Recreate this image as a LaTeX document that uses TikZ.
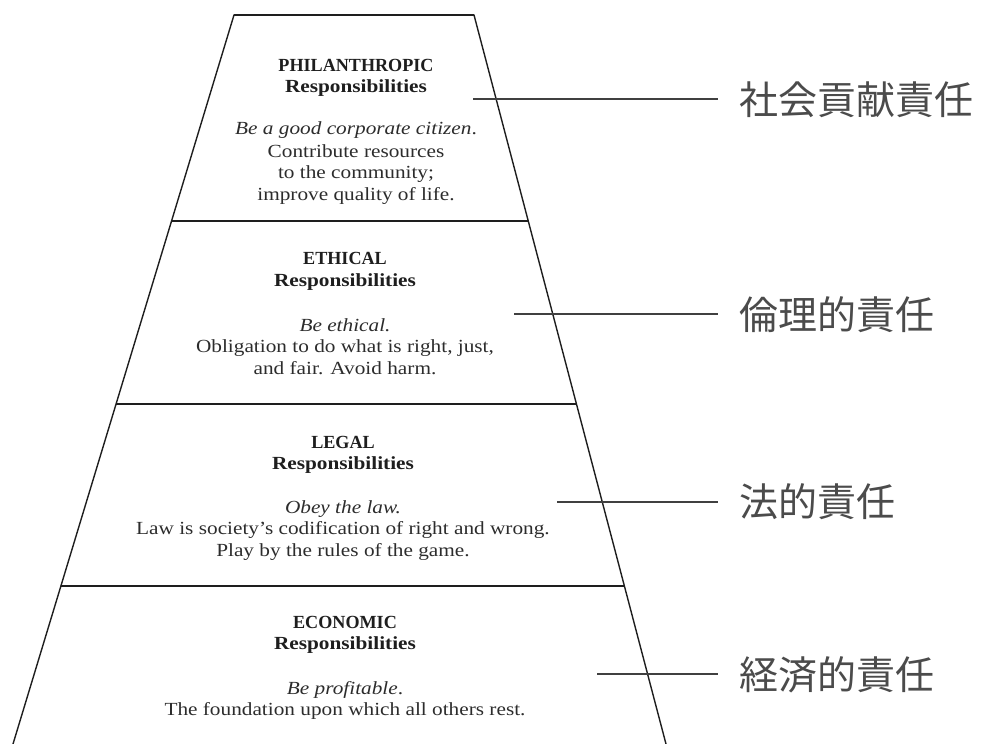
\documentclass[tikz,border=0pt]{standalone}
\usepackage{fontspec}
\setmainfont[FakeStretch=1.15]{Liberation Serif}
\newfontfamily\capsfont[FakeStretch=0.98]{Liberation Serif}
\newfontfamily\cjk{Noto Sans CJK JP}
\usetikzlibrary{calc}

\definecolor{ink}{HTML}{1E1E1E}
\definecolor{bodyink}{HTML}{2C2C2C}

\tikzset{
  edge/.style={draw=ink, line width=1.4pt},
  tierline/.style={draw=ink, line width=2pt},
  leader/.style={draw=ink!85, line width=1.6pt},
  head/.style={anchor=base, inner sep=0pt, text=ink,
    font=\fontsize{18.5}{21}\selectfont\bfseries},
  caps/.style={anchor=base, inner sep=0pt, text=ink,
    font=\capsfont\fontsize{18.5}{21}\selectfont\bfseries},
  body/.style={anchor=base, inner sep=0pt, text=bodyink,
    font=\fontsize{18.5}{21}\selectfont},
  motto/.style={body, font=\fontsize{18.5}{21}\selectfont\itshape},
  tag/.style={anchor=west, inner sep=0pt, text=ink!80,
    font=\fontsize{39}{39}\selectfont\cjk}
}

\begin{document}
\begin{tikzpicture}[x=1pt, y=-1pt]
\useasboundingbox (0,0) rectangle (985,744);

% outline of the pyramid (its base runs off the bottom edge)
\coordinate (tl) at (234,15);
\coordinate (tr) at (474,15);
\coordinate (bl) at (13,744);
\coordinate (br) at (666,744);
\draw[edge] (bl) -- (tl) -- (tr) -- (br);
\draw[tierline] (tl) -- (tr);

% tier boundaries
\coordinate (d1l) at ($(tl)!0.2826!(bl)$);
\coordinate (d1r) at ($(tr)!0.2826!(br)$);
\coordinate (d2l) at ($(tl)!0.5336!(bl)$);
\coordinate (d2r) at ($(tr)!0.5336!(br)$);
\coordinate (d3l) at ($(tl)!0.7833!(bl)$);
\coordinate (d3r) at ($(tr)!0.7833!(br)$);
\draw[tierline] (d1l) -- (d1r);
\draw[tierline] (d2l) -- (d2r);
\draw[tierline] (d3l) -- (d3r);

% philanthropic tier
\node[caps]  (ph1) at (356,71)  {PHILANTHROPIC};
\node[head]  (ph2) at (356,92)  {Responsibilities};
\node[motto] (ph3) at (356,134) {Be a good corporate citizen\upshape.};
\node[body]  (ph4) at (356,157) {Contribute resources};
\node[body]  (ph5) at (356,178) {to the community;};
\node[body]  (ph6) at (356,200) {improve quality of life.};

% ethical tier
\node[caps]  (et1) at (345,264) {ETHICAL};
\node[head]  (et2) at (345,286) {Responsibilities};
\node[motto] (et3) at (345,331) {Be ethical.};
\node[body]  (et4) at (345,352) {Obligation to do what is right, just,};
\node[body]  (et5) at (345,374) {and fair. Avoid harm.};

% legal tier
\node[caps]  (lg1) at (343,448) {LEGAL};
\node[head]  (lg2) at (343,469) {Responsibilities};
\node[motto] (lg3) at (343,513) {Obey the law.};
\node[body]  (lg4) at (343,534) {Law is society's codification of right and wrong.};
\node[body]  (lg5) at (343,556) {Play by the rules of the game.};

% economic tier
\node[caps]  (ec1) at (345,628) {ECONOMIC};
\node[head]  (ec2) at (345,649) {Responsibilities};
\node[motto] (ec3) at (345,694) {Be profitable\upshape.};
\node[body]  (ec4) at (345,715) {The foundation upon which all others rest.};

% Japanese labels with leader lines
\node[tag] (jp1) at (739,100) {社会貢献責任};
\node[tag] (jp2) at (739,315) {倫理的責任};
\node[tag] (jp3) at (739,502) {法的責任};
\node[tag] (jp4) at (739,675) {経済的責任};

\coordinate (s1) at (473,99);
\coordinate (s2) at (514,314);
\coordinate (s3) at (557,502);
\coordinate (s4) at (597,674);
\draw[leader] (s1) -- (s1 -| 718,0);
\draw[leader] (s2) -- (s2 -| 718,0);
\draw[leader] (s3) -- (s3 -| 718,0);
\draw[leader] (s4) -- (s4 -| 718,0);
\end{tikzpicture}
\end{document}
